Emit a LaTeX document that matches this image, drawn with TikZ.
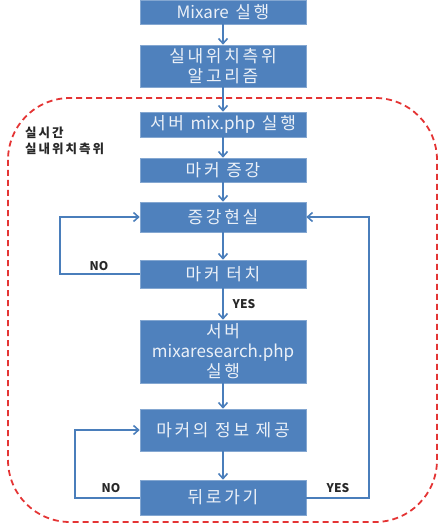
\documentclass[tikz,border=0pt]{standalone}
\usepackage{fontspec}
\setmainfont{Noto Sans CJK KR}[LetterSpace=16]
\newfontfamily\latinfont{Noto Sans CJK KR}
\usepackage{xcolor}
\usetikzlibrary{arrows.meta,calc,positioning,shadows}
\definecolor{boxblue}{RGB}{79,129,189}
\definecolor{linkblue}{RGB}{74,126,187}
\definecolor{boxtext}{RGB}{236,241,248}
\definecolor{zonered}{RGB}{228,52,52}
\definecolor{labelgray}{RGB}{40,40,40}

\begin{document}
\begin{tikzpicture}[x=1pt,y=-1pt,>={Straight Barb[length=5pt,width=9pt,line width=1.6pt]},
  flowbox/.style={draw=boxblue!70!white,line width=0.6pt,fill=boxblue,text=boxtext,
    minimum width=166pt,align=center,inner sep=1pt,
    font=\fontsize{17}{20}\selectfont,
    drop shadow={shadow xshift=1pt,shadow yshift=-1.2pt,opacity=0.35}},
  flowarrow/.style={->,line width=2pt,draw=linkblue},
  looplabel/.style={font=\latinfont\bfseries\fontsize{12}{14}\selectfont,text=labelgray,inner sep=0pt}]
  \useasboundingbox (0,0) rectangle (443,529);
  % real-time zone
  \draw[zonered,line width=1.8pt,dash pattern=on 6pt off 4pt,rounded corners=62pt]
    (8,98) rectangle (437,522);
  \node[font=\bfseries\fontsize{12.5}{16}\selectfont,text=labelgray,align=left,anchor=north west,inner sep=0pt]
    (zone) at (25,127) {실시간\\실내위치측위};
  % main column
  \node[flowbox,minimum height=24pt] (mixare) at (223,12) {{\latinfont Mixare} 실행};
  \node[flowbox,minimum height=42pt] (algo)   at (223,66) {실내위치측위\\알고리즘};
  \node[flowbox,minimum height=25pt] (server) at (223,124.5) {서버 {\latinfont mix.php} 실행};
  \node[flowbox,minimum height=24pt] (marker) at (223,170) {마커 증강};
  \node[flowbox,minimum height=30pt] (ar)     at (223,217) {증강현실};
  \node[flowbox,minimum height=28pt] (touch)  at (223,274) {마커 터치};
  \node[flowbox,minimum height=63pt] (search) at (223,351.5) {서버\\{\latinfont mixaresearch.php}\\실행};
  \node[flowbox,minimum height=42pt] (info)   at (223,430) {마커의 정보 제공};
  \node[flowbox,minimum height=35pt] (back)   at (223,497.5) {뒤로가기};
  % straight links
  \draw[flowarrow] (mixare) -- (algo);
  \draw[flowarrow] (algo) -- (server);
  \draw[flowarrow] (server) -- (marker);
  \draw[flowarrow] (marker) -- (ar);
  \draw[flowarrow] (ar) -- (touch);
  \draw[flowarrow] (touch) -- (search);
  \draw[flowarrow] (search) -- (info);
  \draw[flowarrow] (info) -- (back);
  % loops
  \draw[flowarrow] (touch.west) -- ++(-80,0) |- (ar.west);
  \draw[flowarrow] (back.west) -- ++(-65,0) |- (info.west);
  \draw[flowarrow] (back.east) -- ++(63,0) |- (ar.east);
  \node[looplabel] (no1)  at (99,266) {NO};
  \node[looplabel] (yes1) at (244,304) {YES};
  \node[looplabel] (no2)  at (111,488) {NO};
  \node[looplabel] (yes2) at (338,488) {YES};
\end{tikzpicture}
\end{document}
